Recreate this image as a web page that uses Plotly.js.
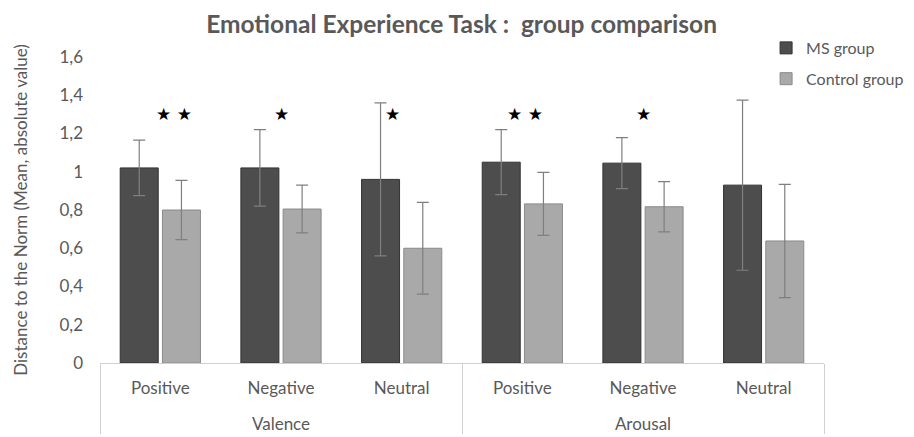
<!DOCTYPE html>
<html>
<head>
<meta charset="utf-8">
<script src="https://cdn.plot.ly/plotly-3.0.1.min.js"></script>
<style>html,body{margin:0;padding:0;background:#fff;}#chart{width:914px;height:437px;}</style>
</head>
<body>
<div id="chart"></div>
<script>
// ---- data ----
const dimensions = ["Valence", "Valence", "Valence", "Arousal", "Arousal", "Arousal"];
const valences   = ["Positive", "Negative", "Neutral", "Positive", "Negative", "Neutral"];
const msMeans      = [1.02, 1.02, 0.96, 1.05, 1.045, 0.93];
const msSD         = [0.145, 0.20, 0.40, 0.17, 0.133, 0.445];
const controlMeans = [0.80, 0.805, 0.60, 0.832, 0.817, 0.638];
const controlSD    = [0.155, 0.125, 0.24, 0.165, 0.131, 0.296];
const stars        = ["★ ★", "★", "★", "★ ★", "★", ""];
const starLevel    = 1.3;
const seriesNames  = ["MS group", "Control group"];
const yTickVals    = [0, 0.2, 0.4, 0.6, 0.8, 1, 1.2, 1.4, 1.6];
const yTickText    = ["0", "0,2", "0,4", "0,6", "0,8", "1", "1,2", "1,4", "1,6"];

// ---- style ----
const FONT = "Lato, 'Open Sans', sans-serif";
const GREY = "#595959";
const starNudge = [14, 0, -9, 3, 0, 0]; // px offsets of the star labels

const xCats = [dimensions.map(d => "<br>" + d), valences];

const traces = [
  {
    type: "bar", name: seriesNames[0], x: xCats, y: msMeans,
    legendgroup: "a",
    marker: {color: "#4d4d4d", line: {color: "#333333", width: 1}},
    error_y: {type: "data", array: msSD, visible: true, color: "#7f7f7f", thickness: 1.2, width: 6}
  },
  {
    type: "bar", name: seriesNames[1], x: xCats, y: controlMeans,
    legendgroup: "b",
    marker: {color: "#a9a9a9", line: {color: "#8a8a8a", width: 1}},
    error_y: {type: "data", array: controlSD, visible: true, color: "#7f7f7f", thickness: 1.2, width: 6}
  }
];

const annotations = stars.map((s, i) => ({
  x: i, y: starLevel, xref: "x", yref: "y", text: s, showarrow: false,
  xshift: starNudge[i],
  font: {family: "DejaVu Sans, sans-serif", size: 17, color: "#000"}
})).filter(a => a.text !== "");

const layout = {
  width: 914, height: 437,
  margin: {l: 100, r: 90, t: 57, b: 74, autoexpand: false},
  paper_bgcolor: "#fff", plot_bgcolor: "#fff",
  font: {family: FONT, color: GREY, size: 17},
  title: {
    text: "<b>Emotional Experience Task :  group comparison</b>",
    x: 0.505, xanchor: "center", y: 0.945, yanchor: "middle",
    font: {family: FONT, size: 24.5, color: GREY}
  },
  barmode: "group", bargap: 0.3, bargroupgap: 0.1,
  xaxis: {
    type: "multicategory",
    showline: true, linecolor: "#d0d0d0", linewidth: 1,
    showdividers: true, dividercolor: "#d0d0d0", dividerwidth: 1,
    tickfont: {family: FONT, size: 17, color: GREY},
    ticks: "", ticklabelstandoff: 10, showgrid: false, automargin: false
  },
  yaxis: {
    range: [0, 1.6], tickvals: yTickVals, ticktext: yTickText,
    showgrid: false, zeroline: false, showline: false, ticks: "",
    ticklabelstandoff: 16,
    tickfont: {family: FONT, size: 17, color: GREY},
    title: {text: "Distance to the Norm (Mean, absolute value)", standoff: 27,
            font: {family: FONT, size: 17, color: GREY}},
    automargin: false
  },
  legend: {
    x: 0.92, y: 1.085, xanchor: "left", yanchor: "top",
    traceorder: "grouped", tracegroupgap: 7,
    font: {family: FONT, size: 16, color: GREY},
    bgcolor: "rgba(0,0,0,0)", itemwidth: 30
  },
  annotations: annotations,
  showlegend: true
};

Plotly.newPlot("chart", traces, layout, {displayModeBar: false, staticPlot: true});
</script>
</body>
</html>
